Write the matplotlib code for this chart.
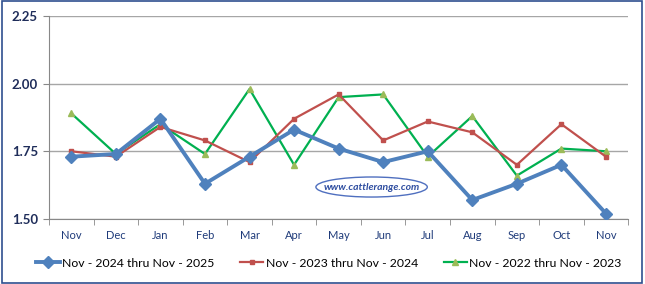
import matplotlib
matplotlib.use("Agg")
import matplotlib.pyplot as plt
from matplotlib.patches import Ellipse, Rectangle

months = ["Nov", "Dec", "Jan", "Feb", "Mar", "Apr", "May", "Jun", "Jul", "Aug", "Sep", "Oct", "Nov"]
s2025 = [1.73, 1.74, 1.87, 1.63, 1.73, 1.83, 1.76, 1.71, 1.75, 1.57, 1.63, 1.70, 1.52]
s2024 = [1.75, 1.73, 1.84, 1.79, 1.71, 1.87, 1.96, 1.79, 1.86, 1.82, 1.70, 1.85, 1.73]
s2023 = [1.89, 1.74, 1.85, 1.74, 1.98, 1.70, 1.95, 1.96, 1.73, 1.88, 1.66, 1.76, 1.75]
labels = ["Nov - 2024 thru Nov - 2025", "Nov - 2023 thru Nov - 2024", "Nov - 2022 thru Nov - 2023"]
yticks = [1.50, 1.75, 2.00, 2.25]

plt.rcParams['font.family'] = ['Lato', 'DejaVu Sans']

fig = plt.figure(figsize=(6.45, 2.84), dpi=100)
ax = fig.add_axes([0.076, 0.229, 0.898, 0.715])

x = list(range(len(months)))
ax.plot(x, s2023, color="#00B050", lw=1.6, marker="^", ms=4, mfc="#9BBB59", mec="#9BBB59", label=labels[2], zorder=3)
ax.plot(x, s2024, color="#C0504D", lw=1.6, marker="s", ms=3.5, mfc="#C0504D", mec="#C0504D", label=labels[1], zorder=4)
ax.plot(x, s2025, color="#4F81BD", lw=2.8, marker="D", ms=6, mfc="#4F81BD", mec="#4F81BD", label=labels[0], zorder=5)

ax.set_xlim(-0.5, len(months) - 0.5)
ax.set_ylim(1.50, 2.25)
ax.set_yticks(yticks)
ax.set_yticklabels([f"{v:.2f}" for v in yticks], fontsize=9.5, fontweight="bold", color="#1F2D5A")
ax.set_xticks(x)
ax.set_xticklabels(months, fontsize=8, color="#1F3B7A")
ax.set_xticks([i - 0.5 for i in range(len(months) + 1)], minor=True)
ax.tick_params(axis="x", which="major", length=0, pad=8)
ax.tick_params(axis="x", which="minor", length=4, color="#888888", direction="out")
ax.tick_params(axis="y", length=4, color="#888888", pad=4)
ax.grid(axis="y", color="#A6A6A6", lw=1)
for s in ["top", "right"]:
    ax.spines[s].set_visible(False)
for s in ["left", "bottom"]:
    ax.spines[s].set_color("#888888")

ell = Ellipse((6.74, 1.618), 2.5, 0.074, transform=ax.transData, fill=True, fc="white", ec="#4F6FBF", lw=1, zorder=6)
ax.add_patch(ell)
ax.text(6.74, 1.618, "www.cattlerange.com", ha="center", va="center", fontsize=7.5, fontweight="bold",
        style="italic", color="#2E4DA0", zorder=7)

h, l = ax.get_legend_handles_labels()
order = [2, 1, 0]
fig.legend([h[i] for i in order], [l[i] for i in order], loc="center", bbox_to_anchor=(0.51, 0.073), ncol=3,
           frameon=False, fontsize=8.8, handlelength=1.9, columnspacing=2.1, handletextpad=0.2)

fig.patches.append(Rectangle((0.003, 0.005), 0.993, 0.99, transform=fig.transFigure, fill=False,
                             ec="#2F4F8F", lw=1.2))
fig.savefig("out.png", dpi=100)
